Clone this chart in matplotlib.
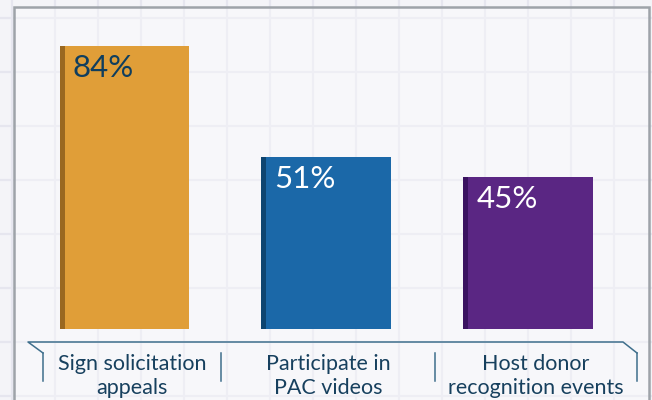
import matplotlib
matplotlib.use("Agg")
import matplotlib.pyplot as plt
from matplotlib.lines import Line2D
from matplotlib.patches import Rectangle

# data
categories = ["Sign solicitation\nappeals", "Participate in\nPAC videos", "Host donor\nrecognition events"]
values = [84, 51, 45]
value_labels = ["84%", "51%", "45%"]

bar_colors = ["#E09E38", "#1B68A8", "#5A2683"]
side_colors = ["#9A6820", "#0E4570", "#3A1260"]
text_colors = ["#0F3E5E", "#FFFFFF", "#FFFFFF"]

NAVY = "#17405E"
BRACKET = "#3F6F8C"
W, H = 652, 400

plt.rcParams["font.family"] = ["Lato", "DejaVu Sans"]

fig = plt.figure(figsize=(W / 100, H / 100), dpi=100, facecolor="#F4F4F8")


def fx(px):
    return px / W


def fy(py):
    return 1 - py / H


# grid paper background
for x in range(12, W, 43):
    fig.add_artist(Line2D([fx(x), fx(x)], [0, 1], color="#E6E6EF", lw=1.6, zorder=-3))
for y in range(18, H, 54):
    fig.add_artist(Line2D([0, 1], [fy(y), fy(y)], color="#E6E6EF", lw=1.6, zorder=-3))

# frame
fig.add_artist(Rectangle((fx(14), fy(405)), fx(649) - fx(14), fy(7) - fy(405),
                         facecolor="#FFFFFF", alpha=0.35, edgecolor="none", zorder=-2))
fig.add_artist(Rectangle((fx(14), fy(405)), fx(649) - fx(14), fy(7) - fy(405),
                         facecolor="none", edgecolor="#9EA3A9", lw=1.8, zorder=-1))

ax = fig.add_axes([fx(23.6), fy(328.5), 605.4 / W, 302.4 / H])
ax.set_xlim(-0.5, 2.5)
ax.set_ylim(0, 90)
ax.axis("off")
ax.patch.set_alpha(0)

x = range(len(values))
bw = 0.644
side = 5 / 201.75
ax.bar(x, values, width=bw, color=bar_colors, zorder=3)
ax.bar([i - bw / 2 + side / 2 for i in x], values, width=side, color=side_colors, zorder=4)

for i, v in enumerate(values):
    ax.annotate(value_labels[i], (i - bw / 2, v), xytext=(9.5, -15.5),
                textcoords="offset points", ha="left", va="center",
                fontsize=22.5, color=text_colors[i], zorder=5)

# category bracket
fig.add_artist(Line2D([fx(43), fx(28), fx(623), fx(637)],
                      [fy(353), fy(342), fy(342), fy(353)], color=BRACKET, lw=1.1))
dividers = [43, 221, 435, 637]
for d in dividers:
    fig.add_artist(Line2D([fx(d), fx(d)], [fy(353), fy(381)], color=BRACKET, lw=1.1))

for i, lab in enumerate(categories):
    cx = (dividers[i] + dividers[i + 1]) / 2
    fig.text(fx(cx), fy(376), lab, ha="center", va="center", fontsize=15.5,
             color=NAVY, linespacing=1.22)

fig.savefig("out.png", dpi=100, facecolor=fig.get_facecolor())
